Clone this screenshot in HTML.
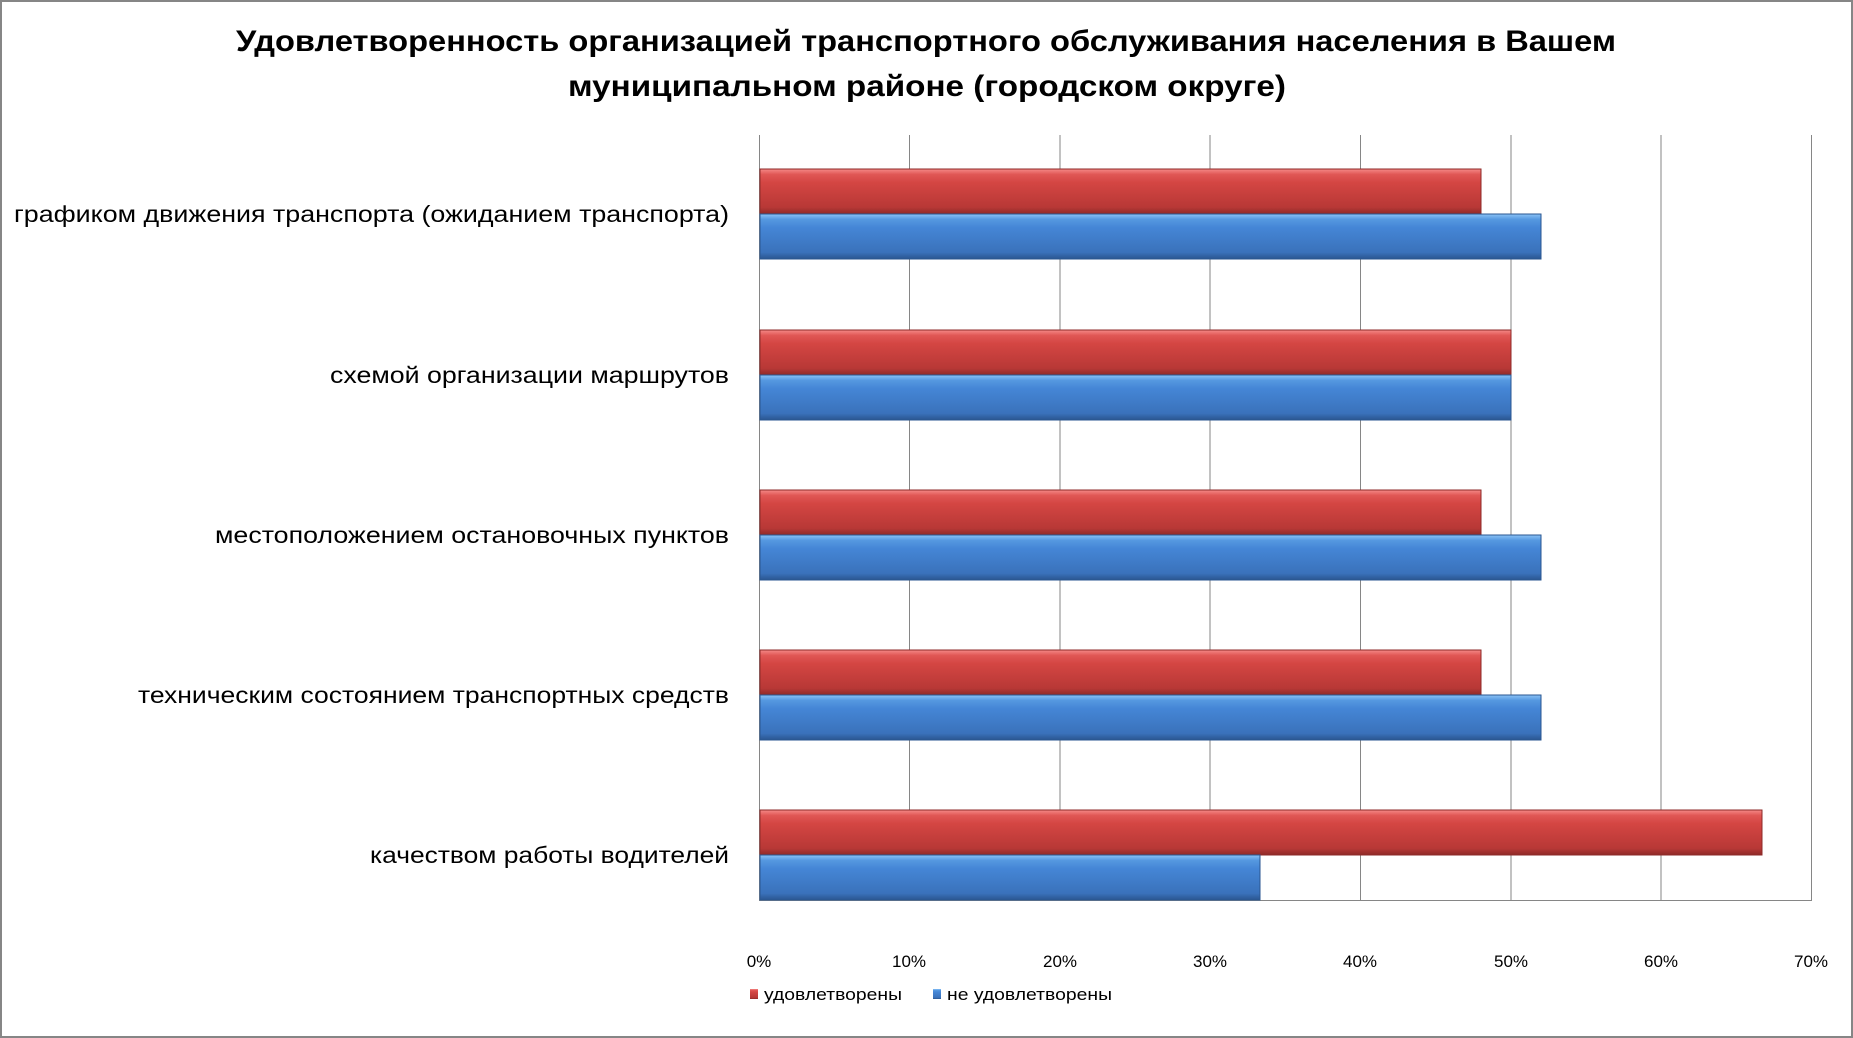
<!DOCTYPE html>
<html><head><meta charset="utf-8"><style>
html,body{margin:0;padding:0;background:#fff}
svg{display:block}
text{font-family:"Liberation Sans",sans-serif;fill:#000}
</style></head><body>
<svg width="1853" height="1038" viewBox="0 0 1853 1038" xmlns="http://www.w3.org/2000/svg">
<defs>
<linearGradient id="r" x1="0" y1="0" x2="0" y2="1">
<stop offset="0" stop-color="#f58a88"/><stop offset="0.12" stop-color="#e05755"/><stop offset="0.3" stop-color="#d44643"/><stop offset="0.85" stop-color="#b83836"/><stop offset="1" stop-color="#8e2a28"/>
</linearGradient>
<linearGradient id="b" x1="0" y1="0" x2="0" y2="1">
<stop offset="0" stop-color="#8cc3f7"/><stop offset="0.12" stop-color="#5598e0"/><stop offset="0.3" stop-color="#4586d6"/><stop offset="0.85" stop-color="#3a72bb"/><stop offset="1" stop-color="#2a5690"/>
</linearGradient>
</defs>
<rect x="1" y="1" width="1851" height="1036" fill="#fff" stroke="#868686" stroke-width="2"/>
<text x="926" y="51" font-size="30" font-weight="bold" text-anchor="middle" textLength="1380" lengthAdjust="spacingAndGlyphs">Удовлетворенность организацией транспортного обслуживания населения в Вашем</text>
<text x="927" y="96" font-size="30" font-weight="bold" text-anchor="middle" textLength="718" lengthAdjust="spacingAndGlyphs">муниципальном районе (городском округе)</text>
<g stroke="#868686" stroke-width="1">
<line x1="909.5" y1="135" x2="909.5" y2="900"/>
<line x1="1060" y1="135" x2="1060" y2="900"/>
<line x1="1210" y1="135" x2="1210" y2="900"/>
<line x1="1360.5" y1="135" x2="1360.5" y2="900"/>
<line x1="1511" y1="135" x2="1511" y2="900"/>
<line x1="1661" y1="135" x2="1661" y2="900"/>
<line x1="1811.5" y1="135" x2="1811.5" y2="900"/>
<line x1="759.5" y1="135" x2="759.5" y2="900"/>
<line x1="759" y1="900.5" x2="1812" y2="900.5"/>
</g>
<g stroke-width="1">
<rect x="760" y="169" width="721" height="45" fill="url(#r)" stroke="#8e2a28"/>
<rect x="760" y="214" width="781" height="45" fill="url(#b)" stroke="#2a5690"/>
<rect x="760" y="330" width="751" height="45" fill="url(#r)" stroke="#8e2a28"/>
<rect x="760" y="375" width="751" height="45" fill="url(#b)" stroke="#2a5690"/>
<rect x="760" y="490" width="721" height="45" fill="url(#r)" stroke="#8e2a28"/>
<rect x="760" y="535" width="781" height="45" fill="url(#b)" stroke="#2a5690"/>
<rect x="760" y="650" width="721" height="45" fill="url(#r)" stroke="#8e2a28"/>
<rect x="760" y="695" width="781" height="45" fill="url(#b)" stroke="#2a5690"/>
<rect x="760" y="810" width="1002" height="45" fill="url(#r)" stroke="#8e2a28"/>
<rect x="760" y="855" width="500" height="45" fill="url(#b)" stroke="#2a5690"/>
</g>
<g font-size="23" text-anchor="end">
<text x="729" y="222" textLength="715" lengthAdjust="spacingAndGlyphs">графиком движения транспорта (ожиданием транспорта)</text>
<text x="729" y="383" textLength="399" lengthAdjust="spacingAndGlyphs">схемой организации маршрутов</text>
<text x="729" y="543" textLength="514" lengthAdjust="spacingAndGlyphs">местоположением остановочных пунктов</text>
<text x="729" y="703" textLength="591" lengthAdjust="spacingAndGlyphs">техническим состоянием транспортных средств</text>
<text x="729" y="863" textLength="359" lengthAdjust="spacingAndGlyphs">качеством работы водителей</text>
</g>
<g font-size="17" text-anchor="middle">
<text x="759" y="967">0%</text>
<text x="909" y="967">10%</text>
<text x="1060" y="967">20%</text>
<text x="1210" y="967">30%</text>
<text x="1360" y="967">40%</text>
<text x="1511" y="967">50%</text>
<text x="1661" y="967">60%</text>
<text x="1811" y="967">70%</text>
</g>
<rect x="750" y="989" width="8" height="10" fill="url(#r)"/>
<text x="764" y="1000" font-size="17" textLength="138" lengthAdjust="spacingAndGlyphs">удовлетворены</text>
<rect x="933" y="989" width="8" height="10" fill="url(#b)"/>
<text x="947" y="1000" font-size="17" textLength="165" lengthAdjust="spacingAndGlyphs">не удовлетворены</text>
</svg>
</body></html>
